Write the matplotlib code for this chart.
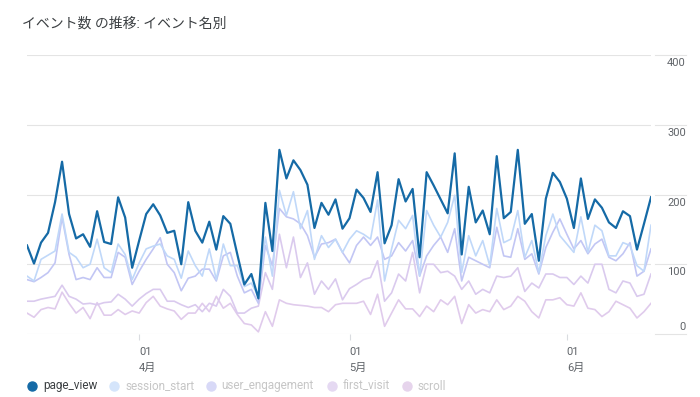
import matplotlib.pyplot as plt
import pandas as pd
from matplotlib.lines import Line2D

plt.rcParams['font.family'] = ['Roboto', 'Noto Sans CJK JP', 'DejaVu Sans']

dates = pd.date_range('2023-03-16', '2023-06-13', freq='D')

page_view = [127, 101, 131, 145, 189, 247, 172, 137, 143, 125, 176, 132, 129, 196, 167, 95,
             134, 172, 186, 170, 145, 148, 100, 189, 148, 131, 161, 121, 169, 158, 114, 71, 86, 51, 188, 119,
             264, 223, 249, 235, 214, 152, 188, 171, 193, 151,
             166, 207, 195, 175, 232, 130, 156, 222, 190, 208, 110, 232, 213, 193, 173, 259, 114, 211, 160, 177,
             143, 255, 166, 175, 264, 158, 172, 105, 194, 231, 218,
             194, 152, 223, 165, 193, 181, 160, 152, 176, 169, 121, 158, 196]
session_start = [83, 76, 107, 113, 119, 172, 117, 110, 95, 100, 136, 95, 88, 129, 114, 78,
                 102, 122, 126, 129, 112, 107, 80, 119, 98, 83, 122, 78, 129, 98, 98, 68, 73, 54, 139, 83,
                 206, 170, 204, 151, 177, 107, 141, 124, 136, 117,
                 136, 148, 143, 136, 192, 76, 122, 163, 151, 170, 83, 177, 156, 139, 160, 199, 88, 141, 112, 134,
                 98, 180, 131, 136, 177, 110, 134, 88, 141, 172, 141,
                 129, 117, 168, 117, 156, 148, 112, 112, 131, 127, 98, 90, 156]
user_engagement = [78, 75, 81, 88, 102, 167, 114, 78, 81, 78, 95, 81, 81, 117, 110, 71,
                   90, 107, 122, 138, 100, 88, 62, 80, 83, 93, 93, 76, 112, 117, 83, 59, 64, 44, 127, 98,
                   180, 168, 165, 158, 141, 110, 129, 131, 136, 117,
                   102, 127, 139, 127, 139, 107, 112, 131, 119, 134, 83, 112, 127, 139, 117, 151, 76, 110, 105, 100,
                   95, 153, 112, 110, 151, 107, 115, 86, 124, 146, 165,
                   143, 122, 134, 115, 129, 136, 110, 105, 115, 131, 83, 90, 122]
first_visit = [47, 47, 50, 52, 54, 70, 54, 50, 43, 44, 42, 45, 46, 57, 50, 40,
               50, 58, 64, 64, 47, 47, 42, 38, 42, 32, 44, 40, 64, 54, 30, 30, 37, 40, 88, 64,
               143, 95, 139, 81, 102, 57, 76, 64, 79, 49,
               65, 71, 78, 81, 105, 47, 59, 86, 76, 117, 59, 100, 100, 88, 90, 83, 64, 76, 57, 64,
               59, 83, 81, 83, 95, 61, 73, 66, 86, 86, 81,
               81, 71, 83, 73, 100, 100, 64, 59, 76, 73, 54, 57, 86]
scroll = [30, 24, 35, 38, 36, 60, 44, 30, 38, 22, 45, 27, 27, 35, 28, 33,
          30, 45, 54, 40, 36, 33, 21, 30, 30, 44, 32, 54, 37, 44, 28, 15, 13, 3, 32, 11,
          49, 44, 42, 41, 40, 38, 38, 32, 42, 44,
          44, 44, 47, 28, 57, 11, 30, 49, 36, 36, 25, 40, 32, 49, 42, 54, 15, 42, 30, 35,
          32, 49, 35, 40, 54, 47, 32, 23, 49, 49, 52,
          42, 40, 59, 37, 35, 25, 32, 47, 42, 37, 23, 32, 44]

series_names = ['page_view', 'session_start', 'user_engagement', 'first_visit', 'scroll']
line_colors = ['#156aa6', '#c0d8f9', '#c2c6f4', '#dacaee', '#e0cbec']
dot_colors = ['#156aa6', '#d5e5fb', '#d8d9f7', '#e5d9f2', '#e6d4ec']
y_ticks = [0, 100, 200, 300, 400]
month_ticks = ['2023-04-01', '2023-05-01', '2023-06-01']
month_labels = ['4月', '5月', '6月']

W, H = 700, 397
fig = plt.figure(figsize=(W / 100, H / 100), dpi=100)
ax = fig.add_axes([27 / W, 63 / H, 624 / W, 279 / H])

grid_c = '#e4e4e4'
for v in y_ticks:
    ax.axhline(v, color=grid_c, lw=0.8, zorder=0)
    ax.plot([1.0064, 1.056], [v, v], color=grid_c, lw=0.8,
            transform=ax.get_yaxis_transform(), clip_on=False)
    off = 10 if v == 0 else -11.5
    ax.text(1.056, v + off, str(v), transform=ax.get_yaxis_transform(),
            ha='right', va='center', fontsize=8, color='#5f6368')

data = [page_view, session_start, user_engagement, first_visit, scroll]
for i in range(len(data) - 1, -1, -1):
    ax.plot(dates, data[i], color=line_colors[i],
            lw=1.6 if i == 0 else 1.2, zorder=5 - i + 1)

ax.set_xlim(dates[0], dates[-1])
ax.set_ylim(0, 400)
for s in ax.spines.values():
    s.set_visible(False)
ax.set_yticks([])
ax.set_xticks(pd.to_datetime(month_ticks))
ax.set_xticklabels([])
ax.tick_params(axis='x', length=4, color='#dadce0', width=0.8)

# GA style: tick labels start at the tick
for d, m in zip(pd.to_datetime(month_ticks), month_labels):
    ax.text(d, -0.066, '01', transform=ax.get_xaxis_transform(),
            ha='left', va='center', fontsize=8, color='#5f6368')
    ax.text(d, -0.122, m, transform=ax.get_xaxis_transform(),
            ha='left', va='center', fontsize=8, color='#5f6368')

fig.text(22 / W, 1 - 24 / H, 'イベント数 の推移: イベント名別',
         ha='left', va='center', fontsize=10, color='#3c4043')

# legend
dot_x = [32, 114, 211, 332, 407]
text_x = [43, 125, 221, 343, 417]
ly = 1 - 386 / H
for i, name in enumerate(series_names):
    fig.add_artist(Line2D([dot_x[i] / W], [ly], marker='o', markersize=6.5,
                          color=dot_colors[i], transform=fig.transFigure))
    fig.text(text_x[i] / W, ly, name, ha='left', va='center', fontsize=8.5,
             color='#3c4043' if i == 0 else '#c6c6c6')

fig.savefig('out.png', dpi=100)
